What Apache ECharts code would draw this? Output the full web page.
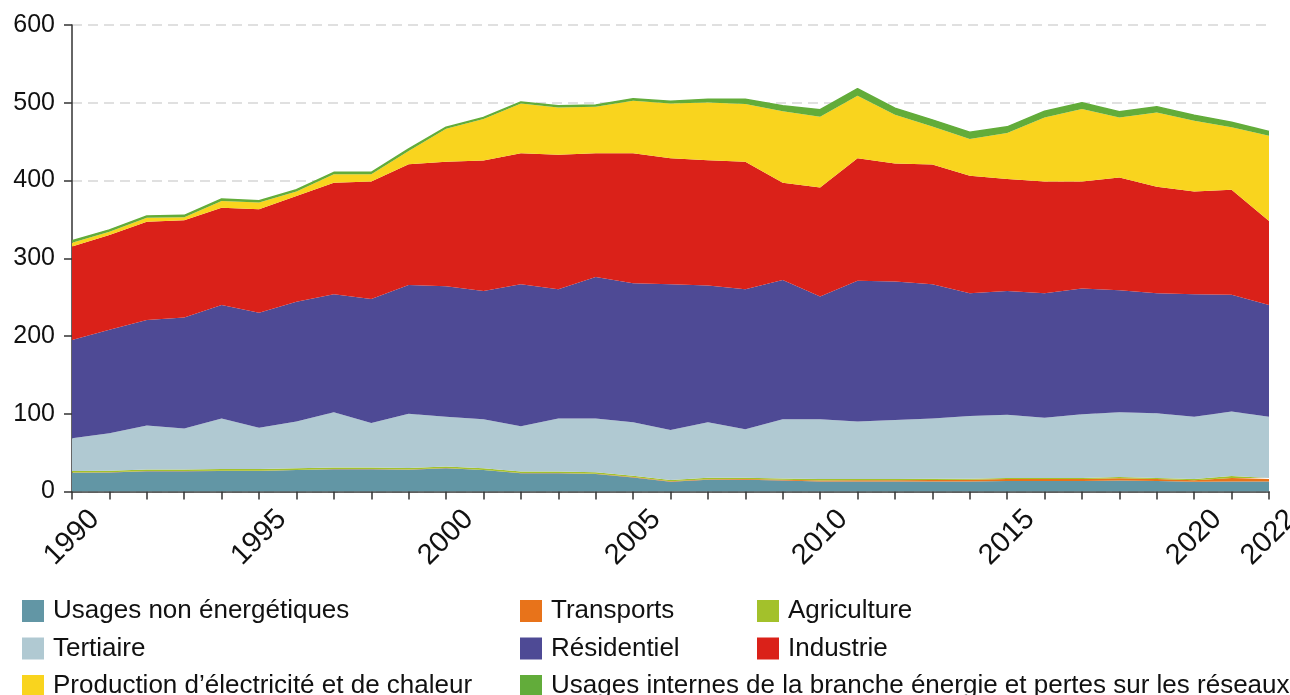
<!DOCTYPE html>
<html>
<head>
<meta charset="utf-8">
<script src="https://cdn.jsdelivr.net/npm/echarts@6/dist/echarts.min.js"></script>
<style>
  html, body { margin: 0; padding: 0; background: #fff; overflow: hidden; }
  #chart { width: 1290px; height: 695px; }
</style>
</head>
<body>
<div id="chart"></div>
<script>
// années
var years = ['1990','1991','1992','1993','1994','1995','1996','1997','1998','1999',
  '2000','2001','2002','2003','2004','2005','2006','2007','2008','2009',
  '2010','2011','2012','2013','2014','2015','2016','2017','2018','2019',
  '2020','2021','2022'];

// valeurs (empilées de bas en haut)
var nonEnergetique = [24, 24.5, 26, 26, 26.5, 26.5, 27.5, 28.5, 28.5, 28, 30, 27.5, 23.5, 23.5, 22.5, 18, 12.5, 15, 15, 14,
  13, 13, 13, 13, 13, 13.5, 13.5, 13.5, 14, 13.5, 12.5, 13, 13];
var transports = [0.3, 0.3, 0.3, 0.3, 0.3, 0.3, 0.3, 0.3, 0.3, 0.3, 0.3, 0.3, 0.3, 0.3, 0.3, 0.5, 0.6, 0.8, 1, 1,
  1.2, 1.5, 1.5, 1.8, 2, 2.5, 2.5, 2.5, 3, 2.5, 2, 4.5, 3];
var agriculture = [2, 2, 2, 2, 2, 2, 2, 2, 2, 2, 2, 2, 2, 2, 2, 1.8, 1.8, 1.8, 1.8, 1.8,
  1.8, 1.5, 1.5, 1.5, 1.5, 1.5, 1.5, 1.5, 1.5, 1.5, 1.5, 2.5, 1.5];
var tertiaire = [42.3, 48.2, 56.7, 52.7, 65.2, 53.2, 60.2, 71.2, 57.2, 69.7, 63.7, 63.2, 58.2, 68.2, 69.2, 68.7, 64.1, 71.4, 62.2, 76.2,
  77, 74, 76, 77.7, 80.5, 81.1, 77.5, 81.9, 83.5, 83.2, 80, 83, 78.5];
var residentiel = [126.4, 133, 135.7, 142.7, 146, 148, 154, 151.7, 159.7, 165.7, 168, 165, 182.6, 166, 182, 179, 187.6, 176, 180, 179,
  157.7, 181, 178, 172.6, 158, 159.4, 160, 161.6, 157, 154.3, 157.7, 150, 144];
var industrie = [120, 122, 126.3, 125.3, 125, 133, 136, 143.3, 150.9, 155.3, 160, 167.6, 168.4, 173, 159, 167, 162, 161, 164, 125,
  140.3, 157.6, 152, 154.1, 151, 144, 143.6, 137.6, 144.7, 137, 132.3, 135, 108];
var production = [5, 4, 5, 3.7, 8.7, 8.6, 5.7, 11, 9.4, 17, 42.5, 53.4, 64, 61, 60, 67.5, 70.4, 74.4, 74.4, 92,
  91, 80.4, 62.5, 48.8, 47.5, 59, 82.4, 93.4, 77.3, 95.5, 91, 80.5, 109.5];
var usagesInternes = [2.5, 2.5, 2.5, 2.5, 2.5, 2.5, 2.5, 2.5, 2.5, 2.5, 2, 2, 2, 2, 2, 2.5, 3, 4, 6, 7,
  9, 9, 8.5, 8.5, 8.5, 8, 8, 8, 7.5, 7.5, 7, 6.5, 5.5];

var yTicks = [0, 100, 200, 300, 400, 500, 600];

var names = {
  nonEn: 'Usages non énergétiques',
  trans: 'Transports',
  agri: 'Agriculture',
  tert: 'Tertiaire',
  res: 'Résidentiel',
  ind: 'Industrie',
  prod: 'Production d’électricité et de chaleur',
  int: 'Usages internes de la branche énergie et pertes sur les réseaux'
};

var font = '"Liberation Sans", Arial, sans-serif';

function area(name, data, color, line) {
  return {
    name: name,
    type: 'line',
    stack: 'total',
    data: data,
    showSymbol: false,
    symbol: 'none',
    color: color,
    lineStyle: { width: line || 0, color: color },
    areaStyle: { color: color, opacity: 1 },
    emphasis: { disabled: true }
  };
}

// une légende par entrée pour garder les colonnes alignées
function leg(name, left, top) {
  return {
    left: left,
    top: top,
    icon: 'rect',
    itemWidth: 22,
    itemHeight: 22,
    selectedMode: false,
    data: [name],
    textStyle: { fontFamily: font, fontSize: 26, color: '#111', padding: [0, 0, 0, 4] }
  };
}
var rows = [593, 630.5, 668];
var cols = [17, 515, 752];

var chart = echarts.init(document.getElementById('chart'));
chart.setOption({
  animation: false,
  backgroundColor: '#fff',
  grid: { left: 72, right: 21, top: 25, bottom: 203.5, containLabel: false, outerBoundsMode: 'none' },
  legend: [
    leg(names.nonEn, cols[0], rows[0]),
    leg(names.trans, cols[1], rows[0]),
    leg(names.agri, cols[2], rows[0]),
    leg(names.tert, cols[0], rows[1]),
    leg(names.res, cols[1], rows[1]),
    leg(names.ind, cols[2], rows[1]),
    leg(names.prod, cols[0], rows[2]),
    leg(names.int, cols[1], rows[2])
  ],
  xAxis: {
    type: 'category',
    boundaryGap: false,
    data: years,
    axisLine: { lineStyle: { color: '#333', width: 1.5 } },
    axisTick: { show: true, interval: 0, length: 8, lineStyle: { color: '#333', width: 1.5 } },
    axisLabel: {
      interval: function (i, v) { return (+v) % 5 === 0 || v === '2022'; },
      rotate: 45,
      align: 'center',
      verticalAlign: 'middle',
      margin: 46,
      fontFamily: font,
      fontSize: 29,
      color: '#111'
    },
    splitLine: { show: false }
  },
  yAxis: {
    type: 'value',
    min: yTicks[0],
    max: yTicks[yTicks.length - 1],
    interval: 100,
    axisLine: { show: true, lineStyle: { color: '#333', width: 1.5 } },
    axisTick: { show: true, length: 8, lineStyle: { color: '#333', width: 1.5 } },
    axisLabel: { margin: 17, fontFamily: font, fontSize: 25, color: '#111' },
    splitLine: { show: true, lineStyle: { color: '#d6d6d6', type: [10, 6], width: 1.5 } }
  },
  series: [
    area(names.nonEn, nonEnergetique, '#6296a5'),
    area(names.trans, transports, '#e8731a'),
    area(names.agri, agriculture, '#a3c12b'),
    area(names.tert, tertiaire, '#b0c9d2'),
    area(names.res, residentiel, '#4e4a95'),
    area(names.ind, industrie, '#da2119'),
    area(names.prod, production, '#f9d41e'),
    area(names.int, usagesInternes, '#62ac3a', 1.5)
  ]
});
</script>
</body>
</html>
